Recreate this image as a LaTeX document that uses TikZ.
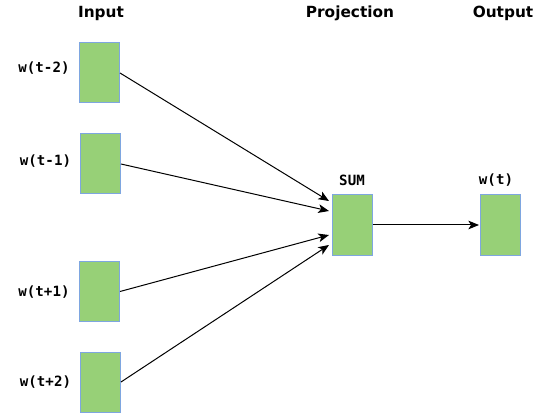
\documentclass[tikz,border=0pt]{standalone}
\usepackage{fontspec}
\setmainfont{DejaVu Sans}
\setmonofont{DejaVu Sans Mono}
\usetikzlibrary{arrows.meta}
\definecolor{boxfill}{HTML}{97D077}
\definecolor{boxline}{HTML}{7EA6E0}
\tikzset{
  cell/.style={draw=boxline, fill=boxfill, line width=0.75pt, minimum width=30pt, minimum height=45pt, inner sep=0pt},
  title/.style={font=\bfseries\fontsize{11.5pt}{13pt}\selectfont, anchor=base, inner sep=0pt},
  lbl/.style={font=\ttfamily\bfseries\fontsize{10.6pt}{12pt}\selectfont, inner sep=0pt},
  conn/.style={line width=0.75pt, -{Stealth[length=8pt,width=6.5pt,inset=2pt]}},
}
\begin{document}
\begin{tikzpicture}[x=0.75pt,y=-0.75pt]
\useasboundingbox (0,0) rectangle (542,413);
% titles
\node[title] (tin) at (101,18) {Input};
\node[title] (tproj) at (350,18) {Projection};
\node[title] (tout) at (503,18) {Output};
% input boxes
\node[cell] (b1) at (99.5,73) {};
\node[cell] (b2) at (100.5,164) {};
\node[cell] (b3) at (99.5,291.5) {};
\node[cell] (b4) at (100.5,382) {};
\node[lbl] (l1) at (44,68.5) {w(t-2)};
\node[lbl] (l2) at (45.5,161) {w(t-1)};
\node[lbl] (l3) at (44,292.5) {w(t+1)};
\node[lbl] (l4) at (45.5,382) {w(t+2)};
% projection
\node[cell] (sum) at (352,225) {};
\node[lbl] (lsum) at (352,180) {SUM};
% output
\node[cell] (out) at (500,225) {};
\node[lbl] (lout) at (496,180.5) {w(t)};
% arrow ends
\coordinate (e1) at (329,201);
\coordinate (e2) at (329,211);
\coordinate (e3) at (329,235);
\coordinate (e4) at (329,245);
\coordinate (e5) at (479,225);
\draw[conn] (b1.east) -- (e1);
\draw[conn] (b2.east) -- (e2);
\draw[conn] (b3.east) -- (e3);
\draw[conn] (b4.east) -- (e4);
\draw[conn] (sum.east) -- (e5);
\end{tikzpicture}
\end{document}
